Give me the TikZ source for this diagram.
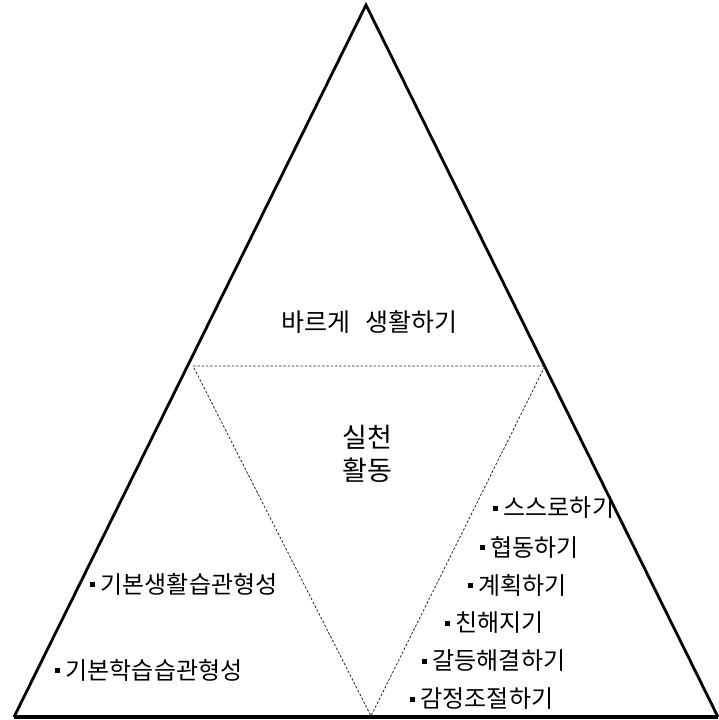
\documentclass[tikz,border=0pt]{standalone}
\usepackage{fontspec}
\setmainfont{Noto Sans CJK KR}
\newcommand{\bul}{\raisebox{0.26em}{\rule{4.5pt}{4.5pt}}\hspace{6pt}}
\begin{document}
\begin{tikzpicture}[x=1pt,y=-1pt,
  outer/.style={line width=2.8pt,line join=miter},
  base/.style={line width=3.6pt},
  inner/.style={line width=0.8pt,dash pattern=on 2.5pt off 1.8pt,black!85},
  head/.style={font=\fontsize{25}{28}\selectfont,inner sep=0pt},
  big/.style={font=\fontsize{27}{31}\selectfont,inner sep=0pt},
  item/.style={font=\fontsize{24}{28}\selectfont,inner sep=0pt,anchor=west}]
\useasboundingbox (0,0) rectangle (719,720);
\coordinate (A) at (366,5);
\coordinate (L) at (14,717);
\coordinate (R) at (718,717);
\draw[outer] (L) -- (A) -- (R);
\draw[base] (L) -- (R);
\coordinate (P) at (193,366);
\coordinate (Q) at (545,366);
\coordinate (V) at (371,716);
\draw[inner] (P) -- (Q) -- (V) -- cycle;
\node[head] (h) at (369,322) {바르게\hspace{0.6em}생활하기};
\node[big] (s1) at (367,437) {실천};
\node[big] (s2) at (367,470) {활동};
\node[item] (r1) at (493,508) {\bul 스스로하기};
\node[item] (r2) at (480,547) {\bul 협동하기};
\node[item] (r3) at (468,585) {\bul 계획하기};
\node[item] (r4) at (445,623) {\bul 친해지기};
\node[item] (r5) at (422,661) {\bul 갈등해결하기};
\node[item] (r6) at (410,699) {\bul 감정조절하기};
\node[item] (l1) at (90,584) {\bul 기본생활습관형성};
\node[item] (l2) at (55,670) {\bul 기본학습습관형성};
\end{tikzpicture}
\end{document}
